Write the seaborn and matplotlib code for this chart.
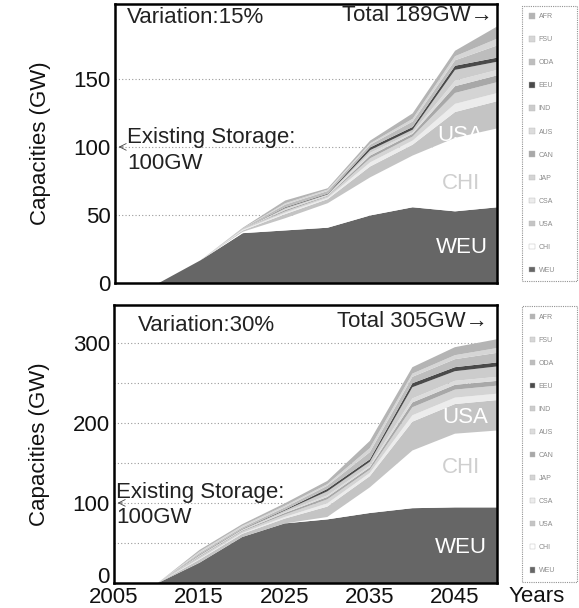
import matplotlib
matplotlib.use("Agg")
import matplotlib.pyplot as plt
import seaborn as sns

sns.set_theme(style="white")
plt.rcParams['font.family'] = ['Liberation Sans', 'DejaVu Sans']

years = [2010, 2015, 2020, 2025, 2030, 2035, 2040, 2045, 2050]
regions = ["WEU", "CHI", "USA", "CSA", "JAP", "CAN", "AUS", "IND", "EEU", "ODA", "FSU", "AFR"]
region_colors = ["#666666", "#ffffff", "#c4c4c4", "#ececec", "#d4d4d4", "#a8a8a8",
                 "#dcdcdc", "#cccccc", "#4a4a4a", "#bdbdbd", "#d6d6d6", "#b4b4b4"]

# Variation 15 %
weu_15 = [0, 17, 37, 39, 41, 50, 56, 53, 56]
chi_15 = [0, 0, 1, 9, 18, 28, 38, 54, 58]
usa_15 = [0, 0, 1, 3, 3, 8, 8, 19, 20]
csa_15 = [0, 0, 0.5, 1, 1, 3, 3, 6, 6]
jap_15 = [0, 0, 0.5, 1, 1, 3, 3, 8, 8]
can_15 = [0, 0, 0, 1, 0.5, 2, 2, 5, 5]
aus_15 = [0, 0, 0, 0.5, 0.5, 2, 1, 4, 4]
ind_15 = [0, 0, 0, 1, 0.5, 2, 2, 8, 6]
eeu_15 = [0, 0, 0, 0.5, 0.5, 2, 2, 3, 3]
oda_15 = [0, 0, 0.5, 2, 2, 2, 4, 4, 9]
fsu_15 = [0, 0, 0, 1, 1, 1, 2, 3, 5]
afr_15 = [0, 0, 0.5, 2, 1, 2, 4, 4, 9]

# Variation 30 %
weu_30 = [0, 26, 58, 75, 80, 88, 94, 95, 95]
chi_30 = [0, 0, 0, 0, 3, 32, 72, 92, 96]
usa_30 = [0, 4, 4, 6, 13, 14, 36, 37, 38]
csa_30 = [0, 1, 1, 2, 4, 4, 8, 8, 8]
jap_30 = [0, 2, 2, 3, 5, 4, 10, 10, 10]
can_30 = [0, 1, 1, 2, 3, 3, 6, 6, 6]
aus_30 = [0, 0.5, 0.5, 1, 2, 2, 5, 5, 5]
ind_30 = [0, 1, 1, 2, 5, 5, 14, 12, 13]
eeu_30 = [0, 0.5, 0.5, 1, 3, 3, 5, 5, 5]
oda_30 = [0, 2, 2, 3, 4, 9, 8, 10, 12]
fsu_30 = [0, 2, 2, 2, 2, 5, 4, 5, 6]
afr_30 = [0, 2, 2, 3, 4, 9, 8, 10, 11]

series_15 = [weu_15, chi_15, usa_15, csa_15, jap_15, can_15, aus_15, ind_15,
             eeu_15, oda_15, fsu_15, afr_15]
series_30 = [weu_30, chi_30, usa_30, csa_30, jap_30, can_30, aus_30, ind_30,
             eeu_30, oda_30, fsu_30, afr_30]

x_ticks = [2005, 2015, 2025, 2035, 2045]
y_ticks_15 = [0, 50, 100, 150]
y_ticks_30 = [0, 100, 200, 300]
grid_15 = [50, 100, 150]
grid_30 = [50, 100, 150, 200, 250, 300]

W, H = 579, 608
fig = plt.figure(figsize=(W / 100, H / 100), dpi=100)
ax1 = fig.add_axes([115 / W, 1 - 283 / H, 382 / W, 279 / H])
ax2 = fig.add_axes([114 / W, 1 - 583 / H, 383 / W, 278 / H])

FS = 16


def draw(ax, series, yticks, ymax, grid, var_txt, total_txt, labels_pos, show_x):
    polys = ax.stackplot(years, *series, colors=region_colors, labels=regions,
                         linewidth=0, zorder=2)
    ax.set_xlim(2005, 2050)
    ax.set_ylim(0, ymax)
    ax.set_yticks(yticks)
    ax.set_yticklabels([str(v) for v in yticks], fontsize=FS)
    for g in grid:
        ax.axhline(g, color="#9a9a9a", linestyle=(0, (1, 2)), linewidth=0.8, zorder=1)
    ax.set_xticks(x_ticks)
    if show_x:
        ax.set_xticklabels([str(v) for v in x_ticks], fontsize=FS)
        # the "0" sits a little higher in the original, clear of the year labels
        ax.get_yticklabels()[0].set_verticalalignment("baseline")
    else:
        ax.set_xticklabels([])
    ax.tick_params(axis="both", length=0, pad=3, colors="#111111")
    for s in ax.spines.values():
        s.set_visible(True)
        s.set_color("black")
        s.set_linewidth(1.8)
        s.set_zorder(5)
    ax.set_ylabel("Capacities (GW)", fontsize=FS, color="#111111")
    ax.yaxis.set_label_coords(-0.168, 0.5)
    ax.grid(False)

    ax.text(var_txt[1], var_txt[2], var_txt[0], transform=ax.transAxes,
            fontsize=FS, ha="left", va="center", color="#222222")
    ax.text(total_txt[1], total_txt[2], total_txt[0], transform=ax.transAxes,
            fontsize=FS, ha="right", va="center", color="#222222")
    ax.text(labels_pos["es"][0], labels_pos["es"][1], "Existing Storage:",
            transform=ax.transAxes, fontsize=FS, ha="left", va="center", color="#222222")
    ax.text(labels_pos["gw"][0], labels_pos["gw"][1], "100GW",
            transform=ax.transAxes, fontsize=FS, ha="left", va="center", color="#222222")
    ax.annotate("", xy=(2005.1, 100), xytext=(2006.3, 100),
                arrowprops=dict(arrowstyle="->", lw=0.6, color="#444444"), zorder=6)
    ax.text(labels_pos["WEU"][0], labels_pos["WEU"][1], "WEU", transform=ax.transAxes,
            fontsize=FS, ha="center", va="center", color="white", zorder=6)
    ax.text(labels_pos["CHI"][0], labels_pos["CHI"][1], "CHI", transform=ax.transAxes,
            fontsize=FS, ha="center", va="center", color="#cfcfcf", zorder=6)
    ax.text(labels_pos["USA"][0], labels_pos["USA"][1], "USA", transform=ax.transAxes,
            fontsize=FS, ha="center", va="center", color="white", zorder=6)

    handles = polys[::-1]
    labs = regions[::-1]
    leg = ax.legend(handles, labs, loc="center", bbox_to_anchor=(1.065, 0.0, 0.144, 1.0),
                    mode="expand", fontsize=5, labelspacing=2.3, borderpad=1.1,
                    handlelength=0.8, handleheight=0.8, handletextpad=0.5,
                    frameon=True, fancybox=False, borderaxespad=0)
    fr = leg.get_frame()
    fr.set_edgecolor("#777777")
    fr.set_linestyle((0, (1, 1)))
    fr.set_linewidth(0.8)
    for t in leg.get_texts():
        t.set_color("#8a8a8a")
    for h in leg.legend_handles:
        h.set_edgecolor("#bbbbbb")
        h.set_linewidth(0.3)
    return ax


draw(ax1, series_15, y_ticks_15, 205, grid_15,
     ("Variation:15%", 0.031, 0.953), ("Total 189GW\u2192", 0.99, 0.958),
     {"es": (0.031, 0.523), "gw": (0.031, 0.430), "WEU": (0.908, 0.129),
      "CHI": (0.906, 0.358), "USA": (0.903, 0.530)}, False)
draw(ax2, series_30, y_ticks_30, 347, grid_30,
     ("Variation:30%", 0.063, 0.928), ("Total 305GW\u2192", 0.977, 0.939),
     {"es": (0.005, 0.327), "gw": (0.005, 0.237), "WEU": (0.906, 0.126),
      "CHI": (0.906, 0.414), "USA": (0.916, 0.597)}, True)

fig.text(537 / W, 1 - 596 / H, "Years", fontsize=FS, ha="center", va="center", color="#111111")

fig.savefig("out.png", dpi=100)
